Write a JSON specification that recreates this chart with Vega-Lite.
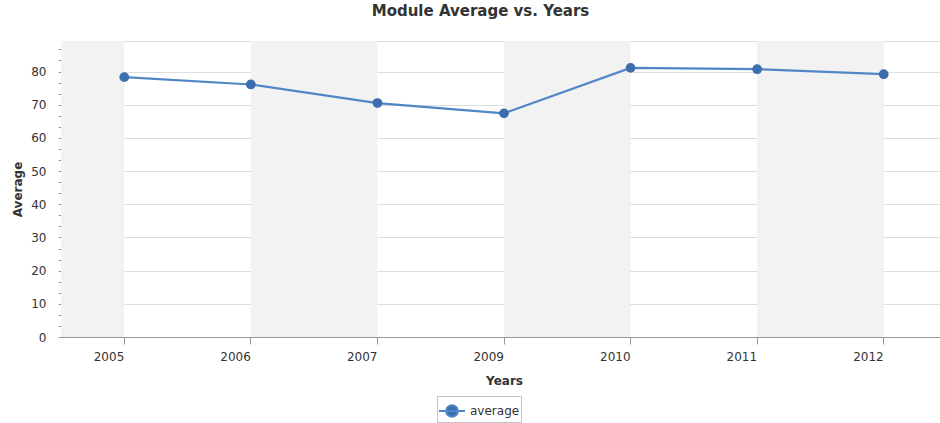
{
  "$schema": "https://vega.github.io/schema/vega-lite/v6.json",
  "width": 879,
  "height": 296,
  "autosize": {"type": "none"},
  "padding": {"left": 61, "top": 41, "right": 0, "bottom": 86},
  "title": {
    "text": "Module Average vs. Years",
    "font": "DejaVu Sans",
    "fontSize": 15,
    "fontWeight": "bold",
    "color": "#333333",
    "anchor": "middle",
    "dx": -20,
    "offset": 16
  },
  "datasets": {
    "scores": [
      {"year": "2005", "average": 78.3},
      {"year": "2006", "average": 76.1},
      {"year": "2007", "average": 70.5},
      {"year": "2009", "average": 67.4},
      {"year": "2010", "average": 81.1},
      {"year": "2011", "average": 80.7},
      {"year": "2012", "average": 79.2}
    ],
    "edgeBand": [
      {"year": "2005"}
    ],
    "oddBands": [
      {"from": "2006", "to": "2007"},
      {"from": "2009", "to": "2010"},
      {"from": "2011", "to": "2012"}
    ]
  },
  "layer": [
    {
      "data": {"name": "edgeBand"},
      "mark": {"type": "rect", "color": "#f2f2f2"},
      "encoding": {
        "x": {"field": "year", "type": "ordinal", "bandPosition": 0},
        "x2": {"field": "year", "bandPosition": 0.5}
      }
    },
    {
      "data": {"name": "oddBands"},
      "mark": {"type": "rect", "color": "#f2f2f2"},
      "encoding": {
        "x": {"field": "from", "type": "ordinal", "bandPosition": 0.5},
        "x2": {"field": "to", "bandPosition": 0.5}
      }
    },
    {
      "data": {"name": "scores"},
      "mark": {"type": "line", "color": "#5186c6", "strokeWidth": 2.2},
      "encoding": {
        "x": {
          "field": "year",
          "type": "ordinal",
          "scale": {"type": "band", "paddingInner": 0, "paddingOuter": 0, "range": [0, 886]},
          "axis": {
            "title": "Years",
            "labelAngle": 0,
            "tickSize": 7,
            "labelPadding": 12,
            "titlePadding": 13,
            "grid": false,
            "titleX": 443
          }
        },
        "y": {
          "field": "average",
          "type": "quantitative",
          "scale": {"domain": [0, 89.2], "nice": false, "zero": true},
          "axis": {
            "title": "Average",
            "values": [0, 3.333, 6.667, 10, 13.333, 16.667, 20, 23.333, 26.667, 30, 33.333, 36.667, 40, 43.333, 46.667, 50, 53.333, 56.667, 60, 63.333, 66.667, 70, 73.333, 76.667, 80, 83.333, 86.667, 89.2],
            "tickCount": 40,
            "labelExpr": "datum.value % 10 === 0 ? datum.label : ''",
            "labelOverlap": false,
            "tickSize": 3,
            "labelPadding": 12,
            "titlePadding": 6,
            "gridOpacity": {"condition": {"test": "datum.value % 10 === 0 || datum.value > 89", "value": 1}, "value": 0},
            "tickOpacity": {"condition": {"test": "datum.value > 89", "value": 0}, "value": 1}
          }
        }
      }
    },
    {
      "data": {"name": "scores"},
      "mark": {"type": "point", "filled": true, "size": 95, "opacity": 1},
      "encoding": {
        "x": {"field": "year", "type": "ordinal"},
        "y": {"field": "average", "type": "quantitative"},
        "color": {
          "datum": "average",
          "scale": {"range": ["#3c6dac"]},
          "legend": {
            "title": null,
            "orient": "none",
            "legendX": 376,
            "legendY": 355,
            "symbolType": "M-1,0H1M-0.45,0A0.45,0.45,0,1,1,0.45,0A0.45,0.45,0,1,1,-0.45,0",
            "symbolSize": 676,
            "symbolStrokeColor": "#5186c6",
            "symbolStrokeWidth": 2,
            "symbolFillColor": "#3c6dac",
            "strokeColor": "#c4c4c4",
            "fillColor": "white",
            "padding": 1,
            "labelFont": "DejaVu Sans",
            "labelFontSize": 12,
            "labelColor": "#333333",
            "labelOffset": 4
          }
        }
      }
    }
  ],
  "config": {
    "view": {"stroke": null},
    "axis": {
      "labelFont": "DejaVu Sans",
      "labelFontSize": 12,
      "labelColor": "#333333",
      "titleFont": "DejaVu Sans",
      "titleFontSize": 12,
      "titleFontWeight": "bold",
      "titleColor": "#333333",
      "domainColor": "#999999",
      "tickColor": "#999999",
      "gridColor": "#dddddd"
    }
  }
}
